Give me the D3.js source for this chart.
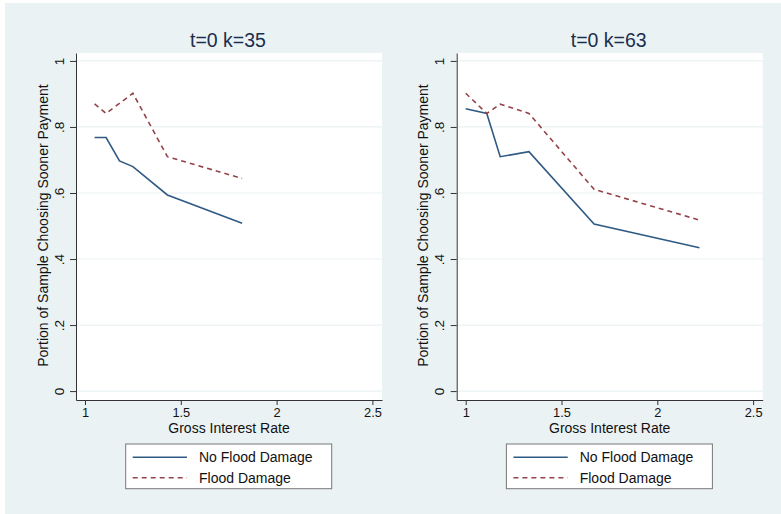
<!DOCTYPE html>
<html>
<head>
<meta charset="utf-8">
<script src="https://cdn.jsdelivr.net/npm/d3@7"></script>
<style>
    body { margin: 0; background: #fff; }
    svg { display: block; font-family: "Liberation Sans", Arial, sans-serif; }
</style>
</head>
<body>
<svg id="chart" width="781" height="514"></svg>
<script>
// values
const panelTitles = ["t=0 k=35", "t=0 k=63"];

const ratesNoFloodK35 = [1.05, 1.11, 1.18, 1.25, 1.43, 1.82];
const noFloodK35 = [0.768, 0.768, 0.697, 0.680, 0.594, 0.508];
const ratesFloodK35 = [1.05, 1.11, 1.25, 1.43, 1.82];
const floodK35 = [0.870, 0.841, 0.902, 0.710, 0.644];

const ratesK63 = [1.0, 1.11, 1.18, 1.33, 1.67, 2.22];
const noFloodK63 = [0.855, 0.841, 0.710, 0.725, 0.506, 0.434];
const floodK63 = [0.902, 0.841, 0.869, 0.841, 0.611, 0.518];

const xTicks = [1, 1.5, 2, 2.5];
const yTicks = [0, 0.2, 0.4, 0.6, 0.8, 1];
const seriesNames = ["No Flood Damage", "Flood Damage"];

const BLUE = "#2f5a84";
const RED = "#94434a";
const BG = "#eaf2f3";

const svg = d3.select("#chart");

svg.append("rect")
    .attr("x", 5).attr("y", 3)
    .attr("width", 776).attr("height", 511)
    .attr("fill", BG);

function zip(xs, ys) {
    return xs.map((x, i) => ({ x: x, y: ys[i] }));
}

const panels = [
    {
        title: panelTitles[0],
        series: [zip(ratesNoFloodK35, noFloodK35), zip(ratesFloodK35, floodK35)],
    },
    {
        title: panelTitles[1],
        series: [zip(ratesK63, noFloodK63), zip(ratesK63, floodK63)],
    },
];

function fmtY(d) {
    if (d === 0) return "0";
    if (d === 1) return "1";
    return d3.format(".1f")(d).replace(/^0/, "");
}

function drawPanel(g, panel) {
    let left = 76, right = 382, top = 53, bottom = 400;

    let x = d3.scaleLinear().domain([0.953, 2.55]).range([left, right]);
    let y = d3.scaleLinear().domain([-0.027, 1.024]).range([bottom, top]);

    g.append("rect")
        .attr("x", left).attr("y", top)
        .attr("width", right - left).attr("height", bottom - top)
        .attr("fill", "#fff");

    // grid
    g.append("g")
        .selectAll("line")
        .data(yTicks)
        .join("line")
        .attr("x1", left).attr("x2", right)
        .attr("y1", d => y(d)).attr("y2", d => y(d))
        .attr("stroke", BG)
        .attr("stroke-width", 1.2);

    let yAxis = g.append("g")
        .attr("transform", `translate(${left},0)`)
        .call(d3.axisLeft(y).tickValues(yTicks).tickFormat(fmtY).tickSize(6).tickSizeOuter(0));
    yAxis.selectAll("text")
        .attr("transform", "rotate(-90)")
        .attr("x", 0).attr("y", -12.5).attr("dy", null)
        .attr("text-anchor", "middle")
        .attr("font-size", 13.5)
        .attr("fill", "#111");

    let xAxis = g.append("g")
        .attr("transform", `translate(0,${bottom})`)
        .call(d3.axisBottom(x).tickValues(xTicks).tickFormat(d3.format("")).tickSize(5).tickSizeOuter(0));
    xAxis.selectAll("text")
        .attr("y", 17.3).attr("dy", null)
        .attr("font-size", 12.8)
        .attr("fill", "#111");

    g.selectAll(".domain, .tick line").attr("stroke", "#333");

    g.append("text")
        .attr("x", (left + right) / 2).attr("y", 433.3)
        .attr("text-anchor", "middle")
        .attr("font-size", 14)
        .attr("fill", "#111")
        .text("Gross Interest Rate");

    g.append("text")
        .attr("transform", `translate(47.7,${(top + bottom) / 2 - 1}) rotate(-90)`)
        .attr("text-anchor", "middle")
        .attr("font-size", 14)
        .attr("fill", "#111")
        .text("Portion of Sample Choosing Sooner Payment");

    g.append("text")
        .attr("x", (left + right) / 2 - 1).attr("y", 47.3)
        .attr("text-anchor", "middle")
        .attr("font-size", 19.5)
        .attr("fill", "#1a2e4e")
        .text(panel.title);

    let line = d3.line().x(d => x(d.x)).y(d => y(d.y));

    g.append("path")
        .datum(panel.series[0])
        .attr("d", line)
        .attr("fill", "none")
        .attr("stroke", BLUE)
        .attr("stroke-width", 1.6);

    g.append("path")
        .datum(panel.series[1])
        .attr("d", line)
        .attr("fill", "none")
        .attr("stroke", RED)
        .attr("stroke-width", 1.6)
        .attr("stroke-dasharray", "5,4");

    // legend
    let lg = g.append("g");
    lg.append("rect")
        .attr("x", 125.7).attr("y", 444)
        .attr("width", 206).attr("height", 44.7)
        .attr("fill", "#fff")
        .attr("stroke", "#777")
        .attr("stroke-width", 1);

    let rows = [
        { name: seriesNames[0], color: BLUE, dash: null, cy: 457.3 },
        { name: seriesNames[1], color: RED, dash: "5,4", cy: 477.7 },
    ];
    rows.forEach(r => {
        lg.append("line")
            .attr("x1", 132.7).attr("x2", 187)
            .attr("y1", r.cy).attr("y2", r.cy)
            .attr("stroke", r.color)
            .attr("stroke-width", 1.6)
            .attr("stroke-dasharray", r.dash);
        lg.append("text")
            .attr("x", 199).attr("y", r.cy + 5)
            .attr("font-size", 14)
            .attr("fill", "#111")
            .text(r.name);
    });
}

panels.forEach((p, i) => {
    let g = svg.append("g").attr("transform", `translate(${i * 380.7},0)`);
    drawPanel(g, p);
});
</script>
</body>
</html>
